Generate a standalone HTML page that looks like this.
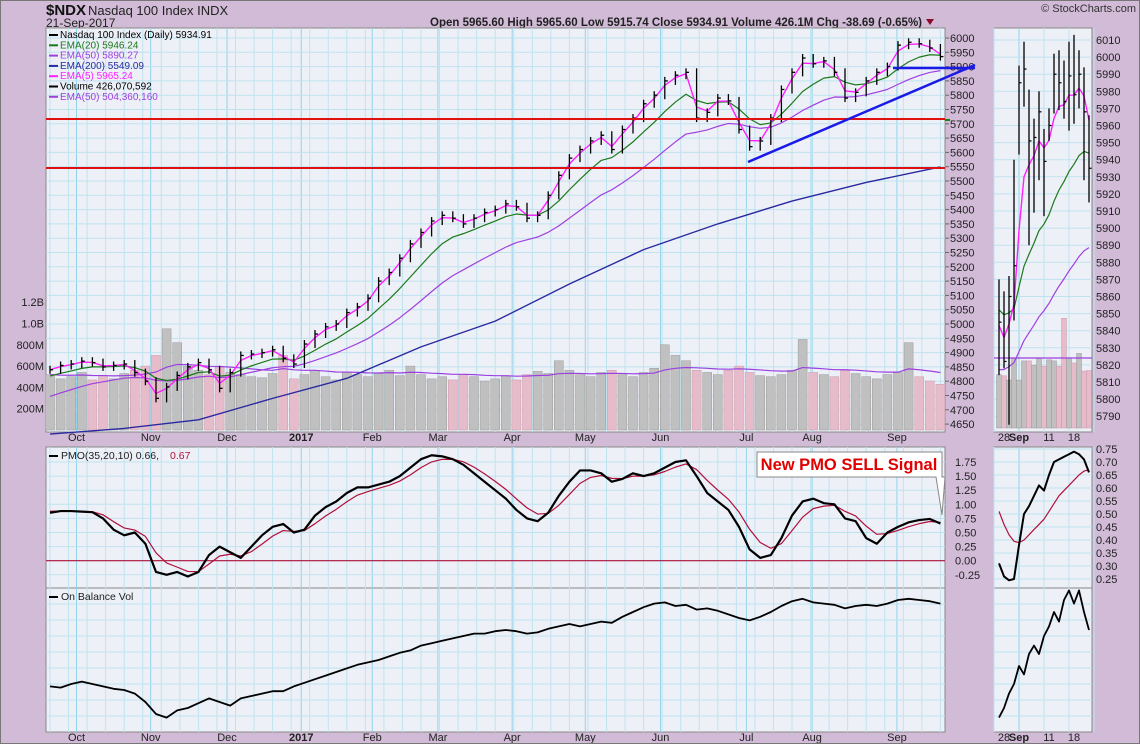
<!DOCTYPE html>
<html><head><meta charset="utf-8"><style>
html,body{margin:0;padding:0;background:#d1bbd7;}
svg{display:block;font-family:"Liberation Sans",sans-serif;}
</style></head><body>
<svg id="c" width="1140" height="744" viewBox="0 0 1140 744" xmlns="http://www.w3.org/2000/svg"></svg>
<script>
// ---- main chart data (sampled every 3 trading days, Sep-2016 .. 21-Sep-2017) ----
const months = ["Oct","Nov","Dec","2017","Feb","Mar","Apr","May","Jun","Jul","Aug","Sep"];
const monthIdx = [2.5,9.5,16.7,23.7,30.4,36.6,43.6,50.5,57.6,65.7,71.9,79.9];
const closes = [4840,4855,4860,4870,4865,4850,4855,4860,4830,4800,
4740,4780,4820,4850,4865,4840,4775,4830,4890,4895,
4900,4910,4880,4860,4930,4965,4990,5000,5040,5060,
5090,5150,5180,5230,5280,5320,5360,5380,5370,5350,
5370,5390,5400,5420,5410,5370,5380,5450,5520,5580,
5610,5640,5660,5610,5680,5720,5770,5800,5850,5870,
5880,5720,5740,5790,5780,5680,5620,5640,5720,5820,
5880,5930,5910,5920,5880,5790,5810,5850,5880,5900,
5975,5985,5980,5965,5935];
const volumes = [520,480,500,540,470,510,480,530,560,600,
700,950,820,600,560,520,590,540,520,500,
490,530,700,480,520,560,500,470,540,520,
500,530,560,510,600,520,480,500,470,520,
500,460,480,510,470,520,550,530,650,560,
520,500,540,560,520,500,540,580,800,700,
650,560,540,520,560,600,540,510,500,520,
560,850,540,520,500,560,530,500,480,520,
540,820,500,460,430];
const emaSeeds = [4840,4810,4735];      // EMA5, EMA20, EMA50 starting values
const ema200Idx = [0,7,14,21,28,35,42,49,56,63,70,77,84];
const ema200 = [4615,4635,4665,4740,4810,4920,5010,5140,5260,5350,5430,5495,5549];
const priceTicks = [4650,4700,4750,4800,4850,4900,4950,5000,5050,5100,5150,5200,5250,5300,5350,5400,5450,5500,5550,5600,5650,5700,5750,5800,5850,5900,5950,6000];
const volTicks = [200,400,600,800,1000,1200];
const volTickLabels = ["200M","400M","600M","800M","1.0B","1.2B"];
const pmo = [0.85,0.88,0.88,0.87,0.86,0.75,0.55,0.45,0.5,0.3,
-0.2,-0.25,-0.2,-0.28,-0.2,0.1,0.25,0.15,0.05,0.25,
0.45,0.6,0.65,0.5,0.55,0.8,0.95,1.05,1.2,1.3,
1.3,1.35,1.4,1.5,1.65,1.8,1.87,1.85,1.8,1.7,
1.55,1.4,1.25,1.1,0.9,0.75,0.7,0.85,1.15,1.4,
1.6,1.6,1.55,1.4,1.45,1.55,1.5,1.55,1.65,1.75,
1.78,1.5,1.2,1.05,0.9,0.6,0.2,0.05,0.1,0.4,
0.8,1.05,1.1,1.02,1.0,0.75,0.7,0.4,0.3,0.5,
0.6,0.68,0.72,0.74,0.66];
const pmoTicks = [-0.25,0,0.25,0.5,0.75,1.0,1.25,1.5,1.75];
const pmoTickLabels = ["-0.25","0.00","0.25","0.50","0.75","1.00","1.25","1.50","1.75"];
const obv = [28,27,30,32,30,28,26,25,22,15,
5,2,8,10,14,18,15,12,18,20,
22,24,24,28,31,34,37,40,43,46,
48,50,53,56,58,62,64,66,68,70,
72,72,74,75,74,72,73,76,78,80,
78,80,82,81,86,90,94,97,98,95,
96,92,93,91,88,85,83,86,90,95,
99,101,98,97,96,93,95,96,95,97,
100,101,100,99,97];
// ---- mini (daily, 25-Aug .. 21-Sep) ----
const miniHi = [5870,5863,5872,5940,5995,6009,5981,5964,5980,5958,5970,6002,6004,5998,6009,6013,6004,5994,5966];
const miniLo = [5814,5818,5785,5846,5943,5971,5890,5909,5928,5907,5951,5967,5969,5964,5957,5961,5970,5928,5915];
const miniClose = [5845,5822,5860,5878,5985,5993,5951,5953,5968,5939,5960,5990,5985,5974,5989,5978,5990,5968,5935];
const miniSeeds = [5842,5853,5816];
const miniVol = [500,490,450,660,450,630,630,590,660,580,640,630,580,1030,660,610,700,535,540];
const miniPriceTicks = [5790,5800,5810,5820,5830,5840,5850,5860,5870,5880,5890,5900,5910,5920,5930,5940,5950,5960,5970,5980,5990,6000,6010];
const miniDateIdx = [1,4,10,15];
const miniDateLabels = ["28","Sep","11","18"];
const miniPmo = [0.31,0.26,0.245,0.25,0.38,0.50,0.53,0.57,0.61,0.59,0.65,0.70,0.71,0.72,0.73,0.74,0.73,0.71,0.66];
const miniSig = [0.51,0.46,0.42,0.395,0.39,0.40,0.42,0.44,0.46,0.48,0.51,0.54,0.57,0.59,0.61,0.63,0.65,0.665,0.67];
const miniPmoTicks = [0.25,0.30,0.35,0.40,0.45,0.50,0.55,0.60,0.65,0.70,0.75];
const miniObv = [2,10,22,30,45,38,55,62,55,70,78,90,82,100,108,97,108,90,75];

const S = document.getElementById('c');
const NS = 'http://www.w3.org/2000/svg';
function el(tag, attrs, name, parent){
  const e = document.createElementNS(NS, tag);
  for (const k in attrs) e.setAttribute(k, attrs[k]);
  
  
  (parent||S).appendChild(e);
  return e;
}
function txt(x,y,s,name,extra){
  const t = el('text', Object.assign({x:x,y:y,'font-size':11,fill:'#222'}, extra||{}), name);
  t.textContent = s; return t;
}
function emaArr(src, n, seed){
  const a = 2/(n+1); let v = seed; return src.map(c => (v = v + a*(c-v)));
}
// ---- geometry ----
const L=46,R=945, mT=28,mB=432, pT=447,pB=588, oB=732;
const mL=994,mR=1092;
const xI = i => 50 + i*10.6;
const yP = p => 38 + (6000-p)/50*14.3;
const yV = v => 430 - v/200*21.3;
const yPmo = v => 560.7 - v*56.4;
const yObv = v => 720 - v*1.2;
const xM = i => 999 + i*5;
const yMP = p => 40 + (6010-p)*1.71;
const yMV = v => 428 - v/200*21.3;
const yMPmo = v => 449 + (0.75-v)*260;
const yMObv = v => 720 - v*1.2;

// header
txt(46,15,'$NDX','symbol-title',{'font-size':15,'font-weight':'bold',fill:'#111'});
txt(88,15,'Nasdaq 100 Index  INDX','index-name',{'font-size':13});
txt(46,27,'21-Sep-2017','chart-date',{'font-size':12});
txt(922,26,'Open 5965.60  High 5965.60  Low 5915.74  Close 5934.91  Volume 426.1M  Chg -38.69 (-0.65%)','ohlc-summary',{'font-size':11.5,'text-anchor':'end','font-weight':'bold'});
el('path',{d:'M926 19 L934 19 L930 25 Z',fill:'#8b0a2a'},'down-arrow');
txt(1136,12,'© StockCharts.com','copyright',{'font-size':11,'text-anchor':'end',fill:'#333'});

// panels
function panel(x1,y1,x2,y2,name){ el('rect',{x:x1,y:y1,width:x2-x1,height:y2-y1,fill:'#eef0f8',stroke:'#888'},name); }
panel(L,mT,R,mB,'price-panel'); panel(L,pT,R,pB,'pmo-panel'); panel(L,pB,R,oB,'obv-panel');
panel(mL,mT,mR,mB,'mini-price-panel'); panel(mL,pT,mR,pB,'mini-pmo-panel'); panel(mL,pB,mR,oB,'mini-obv-panel');

// vertical grid (weekly) + month lines
function vgrid(y1,y2){
  for(let i=0;i<=84;i+=1.75){ el('line',{x1:xI(i),x2:xI(i),y1:y1,y2:y2,stroke:'#bfe3ee','stroke-width':1},'v-grid'); }
  monthIdx.forEach(m=>el('line',{x1:xI(m),x2:xI(m),y1:y1,y2:y2,stroke:'#8fd3ea','stroke-width':1},'month-grid'));
}
vgrid(mT,mB); vgrid(pT,pB); vgrid(pB,oB);
priceTicks.forEach(p=>{ el('line',{x1:L,x2:R,y1:yP(p),y2:yP(p),stroke:'#bfe3ee'},'h-grid');
  el('line',{x1:R,x2:R+4,y1:yP(p),y2:yP(p),stroke:'#666'},'price-tick');
  txt(R+5,yP(p)+4,String(p),'price-tick-label'); });
pmoTicks.forEach((p,k)=>{ el('line',{x1:L,x2:R,y1:yPmo(p),y2:yPmo(p),stroke:'#bfe3ee'},'pmo-h-grid');
  txt(R+10,yPmo(p)+4,pmoTickLabels[k],'pmo-tick-label'); });
for(let y=pB+16;y<oB;y+=16) el('line',{x1:L,x2:R,y1:y,y2:y,stroke:'#bfe3ee'},'obv-h-grid');
volTicks.forEach((v,k)=>txt(44,yV(v)+4,volTickLabels[k],'volume-tick-label',{'text-anchor':'end'}));

// mini grids
[mT,pT,pB].forEach((y1,k)=>{ const y2=[mB,pB,oB][k];
  for(let i=-1;i<20;i+=5) el('line',{x1:xM(i),x2:xM(i),y1:y1,y2:y2,stroke:'#bfe3ee'},'mini-v-grid');
  el('line',{x1:xM(4),x2:xM(4),y1:y1,y2:y2,stroke:'#8fd3ea'},'mini-month-grid'); });
miniPriceTicks.forEach(p=>{ el('line',{x1:mL,x2:mR,y1:yMP(p),y2:yMP(p),stroke:'#bfe3ee'},'mini-h-grid');
  txt(mR+4,yMP(p)+4,String(p),'mini-price-tick-label'); });
miniPmoTicks.forEach(p=>{ el('line',{x1:mL,x2:mR,y1:yMPmo(p),y2:yMPmo(p),stroke:'#bfe3ee'},'mini-pmo-grid');
  txt(mR+4,yMPmo(p)+4,p.toFixed(2),'mini-pmo-tick-label'); });
for(let y=pB+16;y<oB;y+=16) el('line',{x1:mL,x2:mR,y1:y,y2:y,stroke:'#bfe3ee'},'mini-obv-grid');

// date labels
[438,738].forEach(y=>{
  months.forEach((m,k)=>txt(xI(monthIdx[k]),y+3,m,'month-label',{'text-anchor':'middle','font-weight':m==='2017'?'bold':'normal'}));
  miniDateLabels.forEach((m,k)=>txt(xM(miniDateIdx[k]),y+3,m,'mini-date-label',{'text-anchor':'middle','font-weight':m==='Sep'?'bold':'normal'}));
});

// volume bars
const volEma = emaArr(volumes, 17, 520);
volumes.forEach((v,i)=>{ const up = i===0 || closes[i]>=closes[i-1];
  el('rect',{x:xI(i)-4.5,y:yV(v),width:9,height:430-yV(v),fill:up?'#c0c0c0':'#e6bccb',stroke:up?'#999':'#c99aab','stroke-width':0.5},'volume-bar'); });
function poly(xs,ys,color,w,name){ el('polyline',{points:xs.map((x,i)=>x+','+ys[i]).join(' '),fill:'none',stroke:color,'stroke-width':w,'stroke-linejoin':'round'},name); }
poly(volEma.map((v,i)=>xI(i)),volEma.map(yV),'#9a40e0',1.2,'volume-ema50');

// EMA lines
const e5 = emaArr(closes, 5/3, emaSeeds[0]), e20 = emaArr(closes,20/3,emaSeeds[1]), e50 = emaArr(closes,50/3,emaSeeds[2]);
poly(ema200Idx.map(xI),ema200.map(yP),'#2a2aa0',1.4,'ema200-line');
poly(e50.map((v,i)=>xI(i)),e50.map(yP),'#a040e0',1.2,'ema50-line');
poly(e20.map((v,i)=>xI(i)),e20.map(yP),'#1a7a1a',1.2,'ema20-line');
poly(e5.map((v,i)=>xI(i)),e5.map(yP),'#ff20ff',1.4,'ema5-line');
// price bars
closes.forEach((c,i)=>{ const pr = i? closes[i-1]:c; const hi=Math.max(c,pr)+14, lo=Math.min(c,pr)-14;
  el('line',{x1:xI(i),x2:xI(i),y1:yP(hi),y2:yP(lo),stroke:'#000','stroke-width':1.3},'price-bar');
  el('line',{x1:xI(i),x2:xI(i)+3,y1:yP(c),y2:yP(c),stroke:'#000','stroke-width':1.3},'price-close-tick'); });

// annotations
el('line',{x1:L,x2:R,y1:119,y2:119,stroke:'#e01010','stroke-width':2},'resistance-line-5715');
el('line',{x1:L,x2:R,y1:168,y2:168,stroke:'#e01010','stroke-width':2},'support-line-5550');
el('line',{x1:R,x2:R+5,y1:120,y2:120,stroke:'#0a8a0a','stroke-width':2},'green-marker');
el('line',{x1:748,x2:975,y1:162,y2:65,stroke:'#1a1ae8','stroke-width':2.5},'trend-line');
el('line',{x1:893,x2:975,y1:68,y2:68,stroke:'#1a1ae8','stroke-width':2.5},'horizontal-support-line');

// legend
const leg = [['Nasdaq 100 Index (Daily) 5934.91','#000'],['EMA(20) 5946.24','#1a7a1a'],['EMA(50) 5890.27','#a040e0'],['EMA(200) 5549.09','#2a2aa0'],['EMA(5) 5965.24','#ff20ff'],['Volume 426,070,592','#000'],['EMA(50) 504,360,160','#a040e0']];
leg.forEach((l,k)=>{ const y=37+k*10.3;
  el('rect',{x:49,y:y-3,width:9,height:2,fill:l[1]},'legend-swatch');
  txt(60,y+1,l[0],'legend-entry',{'font-size':10,fill:l[1]==='#000'?'#000':l[1]}); });

// PMO panel
el('line',{x1:L,x2:R,y1:yPmo(0),y2:yPmo(0),stroke:'#b0103a','stroke-width':1.2},'pmo-zero-line');
const sig = emaArr(pmo, 10/3, 0.9);
poly(sig.map((v,i)=>xI(i)),sig.map(yPmo),'#b0103a',1.2,'pmo-signal-line');
poly(pmo.map((v,i)=>xI(i)),pmo.map(yPmo),'#000',2.2,'pmo-line');
el('rect',{x:49,y:455,width:9,height:2,fill:'#000'},'pmo-legend-swatch');
txt(61,459,'PMO(35,20,10) 0.66, ','pmo-legend',{'font-size':10.5});
txt(170,459,'0.67','pmo-signal-legend',{'font-size':10.5,fill:'#b0103a'});
el('path',{d:'M757 452 L942 452 L942 477 L945 477 L942 515 L936 477 L757 477 Z',fill:'#fff',stroke:'#888'},'sell-callout-box');
txt(849,470,'New PMO SELL Signal','sell-signal-text',{'font-size':16.5,'font-weight':'bold',fill:'#e00000','text-anchor':'middle'});

// OBV panel
poly(obv.map((v,i)=>xI(i)),obv.map(yObv),'#000',1.8,'obv-line');
el('rect',{x:49,y:596,width:9,height:2,fill:'#000'},'obv-legend-swatch');
txt(61,600,'On Balance Vol','obv-legend',{'font-size':10.5});

// mini price panel
miniVol.forEach((v,i)=>{ const up = i===0 || miniClose[i]>=miniClose[i-1];
  el('rect',{x:xM(i)-2.5,y:yMV(v),width:5,height:428-yMV(v),fill:up?'#c0c0c0':'#e6bccb',stroke:up?'#999':'#c99aab','stroke-width':0.5},'mini-volume-bar'); });
el('line',{x1:mL,x2:mR,y1:358,y2:358,stroke:'#9a40e0','stroke-width':1.2},'mini-volume-ema');
const m5 = emaArr(miniClose,5,miniSeeds[0]), m20 = emaArr(miniClose,20,miniSeeds[1]), m50=emaArr(miniClose,50,miniSeeds[2]);
poly(m50.map((v,i)=>xM(i)),m50.map(yMP),'#a040e0',1.2,'mini-ema50');
poly(m20.map((v,i)=>xM(i)),m20.map(yMP),'#1a7a1a',1.2,'mini-ema20');
poly(m5.map((v,i)=>xM(i)),m5.map(yMP),'#ff20ff',1.4,'mini-ema5');
miniHi.forEach((h,i)=>{
  el('line',{x1:xM(i),x2:xM(i),y1:yMP(h),y2:yMP(miniLo[i]),stroke:'#000','stroke-width':1.3},'mini-price-bar');
  el('line',{x1:xM(i),x2:xM(i)+2.5,y1:yMP(miniClose[i]),y2:yMP(miniClose[i]),stroke:'#000','stroke-width':1.2},'mini-close-tick'); });
// mini PMO
poly(miniSig.map((v,i)=>xM(i)),miniSig.map(yMPmo),'#b0103a',1.2,'mini-pmo-signal');
poly(miniPmo.map((v,i)=>xM(i)),miniPmo.map(yMPmo),'#000',2,'mini-pmo-line');
// mini OBV
poly(miniObv.map((v,i)=>xM(i)),miniObv.map(yMObv),'#000',1.8,'mini-obv-line');

// outer frame
el('rect',{x:0.5,y:0.5,width:1139,height:743,fill:'none',stroke:'#777'},'outer-frame');
</script>
</body></html>
